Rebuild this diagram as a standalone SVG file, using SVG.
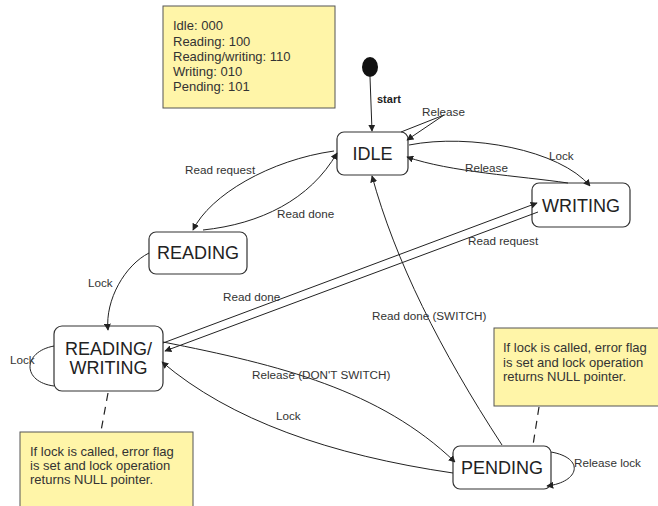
<svg xmlns="http://www.w3.org/2000/svg" width="658" height="506" viewBox="0 0 658 506">
<defs>
<marker id="arr" viewBox="0 0 10 10" refX="9" refY="5" markerWidth="7" markerHeight="7" markerUnits="userSpaceOnUse" orient="auto-start-reverse">
<path d="M0,0 L10,5 L0,10 z" fill="#222"/>
</marker>
<style>
.state rect{fill:#fff;stroke:#333;stroke-width:1.2}
.state text{font-family:"Liberation Sans",Arial,sans-serif;font-size:18px;fill:#222;text-anchor:middle}
.note rect{fill:#fff5a8;stroke:#555;stroke-width:1}
.note text{font-family:"Liberation Sans",Arial,sans-serif;font-size:13px;fill:#333}
.edge{fill:none;stroke:#222;stroke-width:1}
.lbl{font-family:"Liberation Sans",Arial,sans-serif;font-size:11.7px;fill:#333}
.dash{fill:none;stroke:#222;stroke-width:1.2;stroke-dasharray:8,6}
</style>
</defs>
<rect width="658" height="506" fill="#fff"/>

<g id="note-codes" class="note">
<rect x="163" y="6" width="172" height="102"/>
<text x="173" y="30">Idle: 000</text>
<text x="173" y="45.5">Reading: 100</text>
<text x="173" y="60.5">Reading/writing: 110</text>
<text x="173" y="75.5">Writing: 010</text>
<text x="173" y="90.5">Pending: 101</text>
</g>

<g id="start">
<ellipse cx="370" cy="67" rx="8" ry="10" fill="#111"/>
</g>

<g id="idle" class="state">
<rect x="337" y="132" width="71" height="43" rx="7"/>
<text x="372.5" y="160">IDLE</text>
</g>

<g id="writing" class="state">
<rect x="532" y="183" width="98" height="44" rx="7"/>
<text x="581" y="212">WRITING</text>
</g>

<g id="reading" class="state">
<rect x="149" y="232" width="98" height="42" rx="7"/>
<text x="198" y="259">READING</text>
</g>

<g id="readingwriting" class="state">
<rect x="54" y="326" width="109" height="65" rx="8"/>
<text x="108.5" y="355">READING/</text>
<text x="108.5" y="374">WRITING</text>
</g>

<g id="pending" class="state">
<rect x="453" y="446" width="98" height="43" rx="7"/>
<text x="502" y="474">PENDING</text>
</g>

<g id="note-rw" class="note">
<rect x="20" y="432" width="173" height="80"/>
<text x="30" y="456">If lock is called, error flag</text>
<text x="30" y="470">is set and lock operation</text>
<text x="30" y="484">returns NULL pointer.</text>
</g>

<g id="note-pending" class="note">
<rect x="494" y="328" width="170" height="78"/>
<text x="503" y="352">If lock is called, error flag</text>
<text x="503" y="367">is set and lock operation</text>
<text x="503" y="381">returns NULL pointer.</text>
</g>

<g id="connectors">
<path class="edge" d="M370,77 L372,131" marker-end="url(#arr)"/>
<text x="377" y="103" font-family="Liberation Sans,Arial,sans-serif" font-size="11px" font-weight="bold" fill="#222">start</text>

<path class="edge" d="M401,132 L444,115 L407,140" marker-end="url(#arr)"/>
<text class="lbl" x="422" y="116">Release</text>

<path class="edge" d="M409,145 C470,133 560,150 590,186" marker-end="url(#arr)"/>
<text class="lbl" x="549" y="160">Lock</text>

<path class="edge" d="M568,183 C520,176 450,172 407,157" marker-end="url(#arr)"/>
<text class="lbl" x="465" y="172">Release</text>

<path class="edge" d="M334,151 C270,160 210,195 193,230" marker-end="url(#arr)"/>
<text class="lbl" x="185" y="174">Read request</text>

<path class="edge" d="M203,230 C260,224 310,200 337,153" marker-end="url(#arr)"/>
<text class="lbl" x="277" y="218">Read done</text>

<path class="edge" d="M149,253 C125,265 105,300 108,330" marker-end="url(#arr)"/>
<text class="lbl" x="88" y="287">Lock</text>

<path class="edge" d="M163,343 L537,203" marker-end="url(#arr)"/>
<text class="lbl" x="223" y="301">Read done</text>

<path class="edge" d="M538,212 L165,351" marker-end="url(#arr)"/>
<text class="lbl" x="468" y="245">Read request</text>

<path class="edge" d="M163,342 C280,365 380,390 455,462" marker-end="url(#arr)"/>
<text class="lbl" x="252" y="379">Release (DON'T SWITCH)</text>

<path class="edge" d="M453,473 C330,455 230,420 162,362" marker-end="url(#arr)"/>
<text class="lbl" x="276" y="420">Lock</text>

<path class="edge" d="M54,346 C22,352 22,382 54,386"/>
<text class="lbl" x="10" y="364">Lock</text>

<path class="edge" d="M502,445 C440,350 395,260 372,176" marker-end="url(#arr)"/>
<text class="lbl" x="372" y="320">Read done (SWITCH)</text>

<path class="edge" d="M551,452 C585,458 580,482 547,486" marker-end="url(#arr)"/>
<text class="lbl" x="574" y="467">Release lock</text>

<path class="dash" d="M108,393 L101,431"/>
<path class="dash" d="M539,407 L533,445"/>
</g>
</svg>
